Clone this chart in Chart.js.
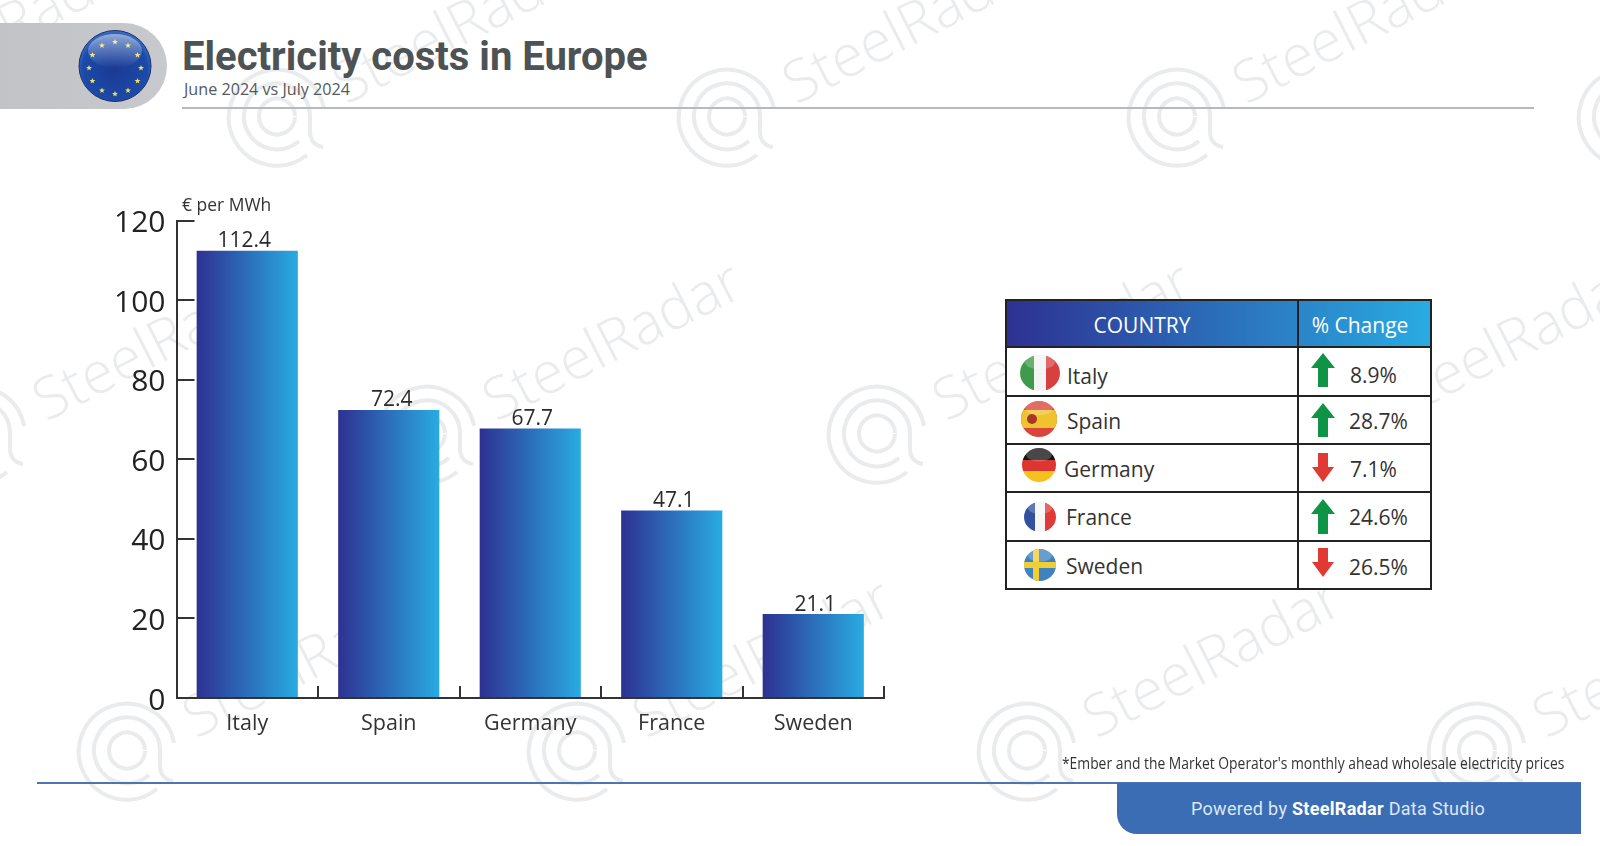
<!DOCTYPE html>
<html>
<head>
<meta charset="utf-8">
<title>Electricity costs in Europe</title>
<script src="https://cdn.jsdelivr.net/npm/chart.js@4/dist/chart.umd.min.js"></script>
<style>
  html, body { margin: 0; padding: 0; background: #fff; }
  #page { position: relative; width: 1600px; height: 846px; overflow: hidden; background: #fff; font-family: "Open Sans", sans-serif; color: #2b2b2b; }
  #page > * { position: absolute; }
  .abs { position: absolute; white-space: nowrap; }
  #badge { left: 0; top: 23px; width: 167px; height: 86px; border-radius: 0 43px 43px 0; background: linear-gradient(90deg, #c2c3c6, #c8c9cc); }
  #title { left: 182px; top: 33px; font: 700 40px Roboto, sans-serif; color: #4d5254; white-space: nowrap; }
  #subtitle { left: 184px; top: 77px; font-size: 17px; color: #55595b; white-space: nowrap; transform: scaleX(.95); transform-origin: 0 0; }
  #rule { left: 182px; top: 107px; width: 1352px; height: 2px; background: #b8b9bb; }
  #unit { left: 182px; top: 192px; font-size: 18px; color: #333; white-space: nowrap; transform: scaleX(.97); transform-origin: 0 0; }
  #chart { left: 0; top: 0; }
  #tableBox { left: 1005px; top: 299px; width: 427px; height: 291px; box-sizing: border-box; border: 2px solid #222; background: #fff; }
  #tableHead { left: 0; top: 0; width: 423px; height: 47px; background: linear-gradient(90deg, #2e3192, #29abe2); }
  .line { position: absolute; background: #222; }
  #source { right: 36px; top: 752px; font-size: 15.5px; color: #333; white-space: nowrap; transform: scaleX(.895); transform-origin: 100% 0; }
  #footLine { left: 37px; top: 782px; width: 1544px; height: 2px; background: #4a76b5; }
  #footBox { left: 1117px; top: 783px; width: 442px; padding-right: 22px; height: 51px; background: #3b6db5; border-radius: 0 0 0 20px; color: #dde6f3; font: 18px Roboto, sans-serif; text-align: center; line-height: 51px; letter-spacing: .3px; }
  #footBox b { color: #fff; }
</style>
</head>
<body>
<div id="page">
  <svg id="marks" width="1600" height="846" style="left:0;top:0"></svg>
  <div id="badge"></div>
  <svg width="80" height="80" style="left:75px;top:26px" viewBox="-40 -40 80 80">
    <defs>
      <radialGradient id="eu" cx="50%" cy="55%" r="60%"><stop offset="0" stop-color="#1a3a94"/><stop offset=".75" stop-color="#1c4aa8"/><stop offset="1" stop-color="#4d86d8"/></radialGradient>
      <linearGradient id="euGloss" x1="0" y1="0" x2="0" y2="1"><stop offset="0" stop-color="#fff" stop-opacity=".5"/><stop offset="1" stop-color="#fff" stop-opacity="0"/></linearGradient>
    </defs>
    <ellipse rx="36" ry="35.5" fill="url(#eu)" stroke="#1b2f6b" stroke-width="1"/>
    <g id="euStars" fill="#f2e25a"></g>
    <ellipse cy="-15" rx="27" ry="17" fill="url(#euGloss)"/>
  </svg>
  <div id="title">Electricity costs in Europe</div>
  <div id="subtitle">June 2024 vs July 2024</div>
  <div id="rule"></div>
  <canvas id="chart" width="1600" height="846" style="width:1600px;height:846px"></canvas>
  <div id="unit">€ per MWh</div>
  <div id="tableBox"></div>
  <div id="source">*Ember and the Market Operator's monthly ahead wholesale electricity prices</div>
  <div id="footLine"></div>
  <div id="footBox">Powered by <b>SteelRadar</b> Data Studio</div>
</div>

<script>
const categories = ["Italy", "Spain", "Germany", "France", "Sweden"];
const prices = [112.4, 72.4, 67.7, 47.1, 21.1];
const changes = [8.9, 28.7, -7.1, 24.6, -26.5];
const yMax = 120;
const yStep = 20;
const unitColor = "#2b2b2b";

// watermark, same tile repeated over the page
const marks = document.getElementById("marks");
let wm = "";
for (let row = -1; row <= 3; row++) {
  for (let col = -2; col <= 5; col++) {
    const x = 277 + col * 450 + row * 150;
    const y = 117 + row * 317;
    if (x < -400 || x > 1750) continue;
    wm += `<g transform="translate(${x},${y})" fill="none" stroke="#e9ebed" stroke-width="4">
      <path d="M30 38 A48 48 0 1 1 47 -8"/>
      <path d="M22 24 A33 33 0 1 1 33 0 V14 Q33 28 46 30"/>
      <path d="M18 0 A18 18 0 1 1 18 -1"/>
      <text transform="translate(69,-12) rotate(-27)" x="0" y="0" stroke="none" fill="#e9ebed" font-family="'Open Sans'" font-weight="300" font-size="58">SteelRadar</text>
    </g>`;
  }
}
marks.innerHTML = wm;

// EU stars
let stars = "";
for (let i = 0; i < 12; i++) {
  const a = i * Math.PI / 6;
  const cx = 26 * Math.sin(a), cy = -26 * Math.cos(a) + 2;
  let pts = [];
  for (let k = 0; k < 10; k++) {
    const r = k % 2 ? 1.3 : 3.1;
    const b = k * Math.PI / 5;
    pts.push((cx + r * Math.sin(b)).toFixed(1) + "," + (cy - r * Math.cos(b)).toFixed(1));
  }
  stars += `<polygon points="${pts.join(" ")}"/>`;
}
document.getElementById("euStars").innerHTML = stars;

// flags for the table
const flags = {
  Italy: { rx: 20, ry: 18, art: '<rect x="-20" y="-18" width="14" height="36" fill="#3f9b4b"/><rect x="-6" y="-18" width="12" height="36" fill="#f4f4f4"/><rect x="6" y="-18" width="14" height="36" fill="#d6403f"/>' },
  Spain: { rx: 18, ry: 18, art: '<rect x="-18" y="-18" width="36" height="36" fill="#d9453d"/><rect x="-18" y="-9" width="36" height="18" fill="#f0c22e"/><circle cx="-7" cy="0" r="5" fill="#a8352a"/>' },
  Germany: { rx: 17, ry: 17, art: '<rect x="-17" y="-17" width="34" height="12" fill="#151515"/><rect x="-17" y="-5" width="34" height="11" fill="#dd3530"/><rect x="-17" y="6" width="34" height="11" fill="#f5c21d"/>' },
  France: { rx: 16, ry: 15, art: '<rect x="-16" y="-15" width="11" height="30" fill="#33509f"/><rect x="-5" y="-15" width="10" height="30" fill="#f5f5f5"/><rect x="5" y="-15" width="11" height="30" fill="#df3a36"/>' },
  Sweden: { rx: 16, ry: 16, art: '<rect x="-16" y="-16" width="32" height="32" fill="#3f82bd"/><rect x="-7" y="-16" width="6" height="32" fill="#f0cf36"/><rect x="-16" y="-3" width="32" height="6" fill="#f0cf36"/>' }
};

// table, positions are relative to the box
const box = document.getElementById("tableBox");
const boxL = 1007, boxT = 301;
const rowLines = [347, 396, 444, 492, 541];
const flagAt = [[1040, 373], [1039, 419], [1039, 465], [1040, 517], [1040, 565]];
const nameAt = [[1067, 376], [1067, 421], [1064, 469], [1066, 517], [1066, 566]];
const arrowAt = [[353, 387], [403, 437], [453, 482], [499, 534], [548, 577]];
const pctAt = [[1350, 375], [1349, 421], [1350, 469], [1349, 517], [1349, 567]];

let html = '<div class="abs" id="tableHead"></div>';
html += `<div class="abs" style="left:${1142 - boxL}px;top:${325 - boxT - 15}px;transform:translateX(-50%);color:#fff;font-size:21px;line-height:30px">COUNTRY</div>`;
html += `<div class="abs" style="left:${1360 - boxL}px;top:${325 - boxT - 15}px;transform:translateX(-50%);color:#fff;font-size:21px;line-height:30px">% Change</div>`;
rowLines.forEach(y => { html += `<div class="line" style="left:0;width:423px;top:${y - boxT - 1}px;height:2px"></div>`; });
html += `<div class="line" style="left:${1298 - boxL - 1}px;top:0;width:2px;height:287px"></div>`;
categories.forEach((name, i) => {
  const f = flags[name];
  html += `<svg class="abs" width="${f.rx * 2 + 2}" height="${f.ry * 2 + 2}" viewBox="${-f.rx - 1} ${-f.ry - 1} ${f.rx * 2 + 2} ${f.ry * 2 + 2}" style="left:${flagAt[i][0] - f.rx - 1 - boxL}px;top:${flagAt[i][1] - f.ry - 1 - boxT}px">
    <clipPath id="clip${i}"><ellipse rx="${f.rx}" ry="${f.ry}"/></clipPath>
    <g clip-path="url(#clip${i})">${f.art}<ellipse cy="${-f.ry * 0.6}" rx="${f.rx * 0.75}" ry="${f.ry * 0.4}" fill="#fff" opacity=".22"/></g></svg>`;
  html += `<div class="abs" style="left:${nameAt[i][0] - boxL}px;top:${nameAt[i][1] - boxT - 15}px;font-size:21px;line-height:30px;color:#333">${name}</div>`;
  const up = changes[i] > 0;
  const [y0, y1] = arrowAt[i];
  const h = y1 - y0;
  const pts = up
    ? `12,0 24,15 17,15 17,${h} 7,${h} 7,15 0,15`
    : `7,0 17,0 17,${h - 15} 23,${h - 15} 12,${h} 1,${h - 15} 7,${h - 15}`;
  html += `<svg class="abs" width="24" height="${h}" style="left:${1311 - boxL}px;top:${y0 - boxT}px"><polygon points="${pts}" fill="${up ? "#0f9347" : "#e03a34"}"/></svg>`;
  html += `<div class="abs" style="left:${pctAt[i][0] - boxL}px;top:${pctAt[i][1] - boxT - 15}px;font-size:21px;line-height:30px;color:#333">${Math.abs(changes[i]).toFixed(1)}%</div>`;
});
box.innerHTML = html;

// value labels above the bars, not quite centred in the reference
const labelNudge = [-3, 3, 2, 2, 2];
const valueLabels = {
  id: "valueLabels",
  afterDatasetsDraw(chart) {
    const ctx = chart.ctx;
    ctx.save();
    ctx.font = '21px "Open Sans"';
    ctx.fillStyle = unitColor;
    ctx.textAlign = "center";
    ctx.textBaseline = "bottom";
    chart.getDatasetMeta(0).data.forEach((bar, i) => {
      ctx.fillText(prices[i].toFixed(1), bar.x + labelNudge[i], bar.y + 1);
    });
    ctx.restore();
  }
};

const barShare = 0.715;

new Chart(document.getElementById("chart"), {
  type: "bar",
  data: {
    labels: categories,
    datasets: [{
      data: prices,
      barPercentage: barShare,
      categoryPercentage: 1,
      backgroundColor: c => {
        const scale = c.chart.scales.x;
        if (!scale || c.dataIndex === undefined) return "#2e3192";
        const half = scale.width / categories.length * barShare / 2;
        const mid = scale.getPixelForValue(c.dataIndex);
        if (!Number.isFinite(mid) || !Number.isFinite(half)) return "#2e3192";
        const g = c.chart.ctx.createLinearGradient(mid - half, 0, mid + half, 0);
        g.addColorStop(0, "#2e3192");
        g.addColorStop(1, "#29abe2");
        return g;
      }
    }]
  },
  options: {
    responsive: false,
    animation: false,
    devicePixelRatio: 1,
    layout: { padding: { left: 116.5, right: 716, top: 220.5, bottom: 88 } },
    plugins: { legend: { display: false }, tooltip: { enabled: false }, title: { display: false } },
    scales: {
      x: {
        afterFit: s => { s.height = 60; },
        border: { color: "#333", width: 2 },
        grid: { drawOnChartArea: false, color: "#333", lineWidth: 2, tickLength: -12 },
        ticks: { color: "#333", font: { family: "Open Sans", size: 21.5 }, padding: 25, maxRotation: 0 }
      },
      y: {
        min: 0,
        max: yMax,
        afterFit: s => { s.width = 60; },
        border: { color: "#333", width: 2 },
        grid: { drawOnChartArea: false, color: "#333", lineWidth: 2, tickLength: -18 },
        ticks: { stepSize: yStep, color: "#222", font: { family: "Open Sans", size: 30 }, padding: 29, labelOffset: 3 }
      }
    }
  },
  plugins: [valueLabels]
});
</script>
</body>
</html>
